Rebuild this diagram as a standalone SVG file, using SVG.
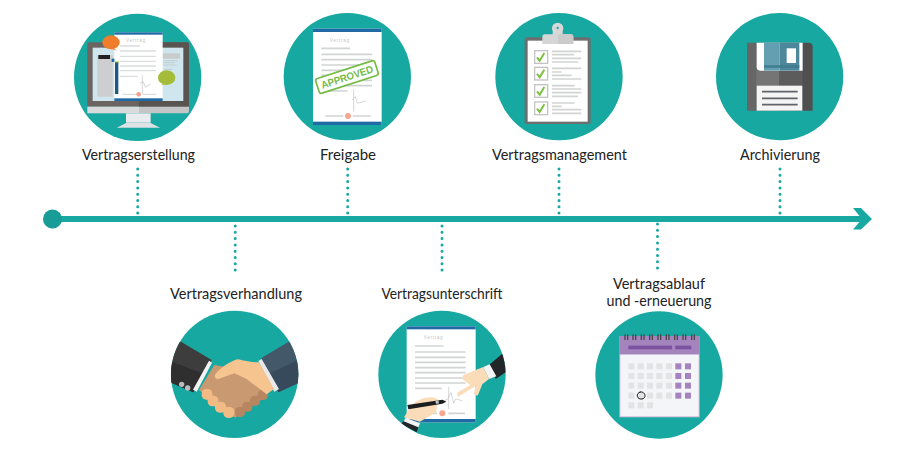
<svg xmlns="http://www.w3.org/2000/svg" width="907" height="451" viewBox="0 0 907 451">
<style>
.bg{fill:#17a8a2}
.lbl{font-family:"Lato","Liberation Sans",sans-serif;font-size:15px;font-weight:400;fill:#222;text-anchor:middle}
.dots{stroke:#17a8a2;stroke-width:3;stroke-linecap:round;stroke-dasharray:0 6.3;fill:none}
.gl{stroke:#dcdede;stroke-width:4;fill:none}
.cl{stroke:#d2d4d4;stroke-width:5;fill:none}
.vt{font-family:"Liberation Sans",sans-serif;font-size:14px;fill:#c4c6c6;letter-spacing:2px}
.sig{stroke:#c0c2c2;stroke-width:2;fill:none}
.g{fill:#e2e3e5}.p{fill:#a583bd}
</style>
<defs>
<clipPath id="c5"><circle cx="239" cy="208" r="191"/></clipPath>
<clipPath id="c6"><circle cx="231" cy="208" r="191"/></clipPath>
</defs>
<rect width="907" height="451" fill="#fff"/>
<g id="connectors">
<line x1="52" y1="219" x2="868" y2="219" stroke="#17a8a2" stroke-width="6"/>
<circle cx="52.500" cy="219" r="9.500" fill="#179c98"/>
<polygon points="853,208 861,208 872,219 861,229.500 853,229.500 862,219" fill="#17a8a2"/>
<path class="dots" d="M137.700 169V214"/>
<path class="dots" d="M235.200 226V275"/>
<path class="dots" d="M347.700 169V214"/>
<path class="dots" d="M442 226V275"/>
<path class="dots" d="M559 169V214"/>
<path class="dots" d="M657.500 224V271"/>
<path class="dots" d="M780 169V214"/>
</g>

<g id="n1">
<g transform="translate(60,0) scale(.3333)">
<circle class="bg" cx="233" cy="232" r="191"/>
<rect x="82" y="127" width="305" height="193" rx="6" fill="#6b6461"/>
<path d="M236 127H381a6 6 0 0 1 6 6V320H236z" fill="#5a5451"/>
<rect x="82" y="320" width="155" height="20" fill="#d9dadb"/>
<path d="M237 320H387V332a8 8 0 0 1-8 8H237z" fill="#c4c5c6"/>
<rect x="98" y="143" width="272" height="160" fill="#cfe6ee"/>
<rect x="112" y="165" width="46" height="125" fill="#cdcecf"/>
<rect x="115" y="165" width="35" height="12" fill="#222"/>
<rect x="308" y="160" width="52" height="16" fill="#c9cccc"/>
<path class="sig" d="M310 182H352M310 188H345M310 195H350M312 208H338" stroke-width="1.500"/>
<polygon points="198,340 272,340 272,368 198,368" fill="#e9ecee"/>
<polygon points="170,383 200,368 270,368 300,383" fill="#dfe2e4"/>
<rect x="163" y="97" width="145" height="206" fill="#fff"/>
<rect x="163" y="97" width="145" height="7" fill="#1f6aa5"/>
<rect x="163" y="295" width="145" height="8" fill="#1f6aa5"/>
<rect x="165" y="186" width="10" height="96" fill="#1d5a80"/>
<rect x="155" y="176" width="8" height="10" fill="#1f6aa5"/>
<rect x="166" y="184" width="10" height="4" fill="#a4bc3a"/>
<text class="vt" x="198" y="127">Vertrag</text>
<path class="gl" stroke-width="3" d="M180 138H240M180 153H288M180 169H288M180 184H288M180 198H288M180 212H288M180 229H233"/>
<path class="sig" d="M247 225V282M240 250L250 245L256 262L272 252"/>
<path class="gl" d="M188 283H228M248 283H288" stroke-width="2"/>
<circle cx="236" cy="283" r="7" fill="#f4a28c"/>
<ellipse cx="153" cy="127" rx="26" ry="21" fill="#ef7d2c"/>
<polygon points="160,145 172,152 152,146" fill="#ef7d2c"/>
<ellipse cx="320" cy="233" rx="26" ry="22" fill="#a4bc3a"/>
<polygon points="312,250 303,256 325,252" fill="#a4bc3a"/>
</g>
<text class="lbl" x="138.500" y="160" textLength="113" lengthAdjust="spacingAndGlyphs">Vertragserstellung</text>
</g>

<g id="n2">
<g transform="translate(270,0) scale(.3333)">
<circle class="bg" cx="232" cy="230" r="191"/>
<rect x="129" y="86" width="206" height="289" fill="#fff"/>
<rect x="129" y="86" width="206" height="10" fill="#1f6aa5"/>
<rect x="129" y="365" width="206" height="10" fill="#1f6aa5"/>
<text class="vt" x="180" y="125">Vertrag</text>
<path class="cl" stroke-width="4" d="M154 145H240M154 163H306M154 179H306M154 195H306M154 211H306M154 226H306M154 241H306M154 257H306M154 273H233"/>
<path class="sig" d="M251 268V335M246 300L256 290L262 310L288 303" stroke-width="3"/>
<path class="cl" stroke-width="3" d="M166 348H220M248 348H302"/>
<circle cx="234" cy="348" r="9" fill="#f7a78f"/>
<g transform="rotate(-18 231 231)">
<rect x="138" y="208" width="186" height="46" rx="7" fill="#fff" stroke="#74bb45" stroke-width="5"/>
<text x="231" y="242" font-family="Liberation Sans,sans-serif" font-weight="700" font-size="31" fill="#74bb45" text-anchor="middle" textLength="162" lengthAdjust="spacingAndGlyphs">APPROVED</text>
</g>
</g>
<text class="lbl" x="348" y="160" textLength="56" lengthAdjust="spacingAndGlyphs">Freigabe</text>
</g>

<g id="n3">
<g transform="translate(480,0) scale(.3333)">
<circle class="bg" cx="237" cy="230" r="191"/>
<rect x="134" y="112" width="198" height="260" rx="6" fill="#6e6e6e"/>
<rect x="143" y="122" width="180" height="243" fill="#fff"/>
<circle cx="233" cy="85" r="17" fill="#d8d8d8"/>
<rect x="218" y="85" width="30" height="20" fill="#d8d8d8"/>
<circle cx="233" cy="84" r="3.500" fill="#17a8a2"/>
<path d="M187 110a7 7 0 0 1 7-7H273a7 7 0 0 1 7 7V132H187z" fill="#d6d6d6"/>
<path d="M234 103H273a7 7 0 0 1 7 7V132H234z" fill="#cbcbcb"/>
<g fill="#fff" stroke="#c4c4c4" stroke-width="4">
<rect x="164" y="152" width="39" height="38"/><rect x="164" y="202" width="39" height="38"/><rect x="164" y="254" width="39" height="38"/><rect x="164" y="306" width="39" height="38"/>
</g>
<g fill="none" stroke="#7cc142" stroke-width="6">
<path d="M171 172L179 182L193 159"/><path d="M171 222L179 232L193 209"/><path d="M171 274L179 284L193 261"/><path d="M171 326L179 336L193 313"/>
</g>
<path class="cl" d="M216 154H304M216 164H282M216 175H304M216 186H294M216 205H304M216 216H245M216 226H275M216 237H304M216 257H284M216 267H304M216 278H304M216 289H294M216 309H284M216 319H245M216 329H304M216 340H304"/>
</g>
<text class="lbl" x="559.500" y="160" textLength="135" lengthAdjust="spacingAndGlyphs">Vertragsmanagement</text>
</g>

<g id="n4">
<g transform="translate(700,0) scale(.3333)">
<circle class="bg" cx="239" cy="230" r="191"/>
<path d="M141 128H238V332H141z" fill="#666"/>
<path d="M238 128H326a12 12 0 0 1 12 12V332H238z" fill="#4f4f4f"/>
<rect x="169" y="212" width="69" height="45" fill="#757575"/>
<rect x="238" y="212" width="69" height="45" fill="#5c5c5c"/>
<path d="M170 128H308V212H180a10 10 0 0 1-10-10z" fill="#fff"/>
<rect x="192" y="128" width="47" height="84" fill="#639fb0"/>
<rect x="239" y="128" width="59" height="84" fill="#4d879c"/>
<rect x="192" y="196" width="106" height="7" fill="#3f7a8f"/>
<rect x="260" y="145" width="28" height="44" fill="#fff"/>
<rect x="170" y="257" width="137" height="75" fill="#f5f5f5"/>
<path d="M186 275H293M186 295H293M186 314H293" stroke="#606468" stroke-width="5"/>
</g>
<text class="lbl" x="780" y="160" textLength="80" lengthAdjust="spacingAndGlyphs">Archivierung</text>
</g>

<g id="n5">
<text class="lbl" x="236" y="299" textLength="132" lengthAdjust="spacingAndGlyphs">Vertragsverhandlung</text>
<g transform="translate(155,305) scale(.3333)">
<circle class="bg" cx="239" cy="208" r="191"/>
<g clip-path="url(#c5)">
<polygon points="78,110 170,165 115,262 30,225 30,110" fill="#3d3d3d"/>
<polygon points="50,170 142,205 115,262 30,225" fill="#2f2f2f"/>
<polygon points="410,105 318,160 370,262 440,230 440,105" fill="#43596a"/>
<polygon points="430,165 345,205 370,262 440,230" fill="#364a5c"/>
</g>
<circle cx="80" cy="238" r="8" fill="#b9bcbf"/><circle cx="98" cy="249" r="8" fill="#b9bcbf"/>
<polygon points="162,167 171,173 125,260 114,254" fill="#f4f4f4"/>
<polygon points="310,168 320,162 372,252 358,260" fill="#e9e9e9"/>
<path d="M178 180L132 255L240 338L340 270L300 195L235 190z" fill="#c99a72"/>
<g fill="#b78660">
<rect x="240" y="306" width="30" height="30" rx="13"/><rect x="262" y="290" width="30" height="30" rx="13"/><rect x="285" y="272" width="30" height="30" rx="13"/><rect x="308" y="255" width="30" height="30" rx="13"/>
</g>
<path d="M180 210C190 192 230 165 250 163C275 170 295 172 312 172L357 252L335 268L275 222L238 205L190 222C180 222 178 215 180 210z" fill="#f6c48e"/>
<g fill="#f2bb85"><rect x="140" y="252" width="32" height="32" rx="14"/><rect x="158" y="272" width="32" height="32" rx="14"/><rect x="180" y="290" width="33" height="33" rx="14"/><rect x="205" y="306" width="33" height="33" rx="14"/></g>
</g>
</g>

<g id="n6">
<text class="lbl" x="442" y="299" textLength="121" lengthAdjust="spacingAndGlyphs">Vertragsunterschrift</text>
<g transform="translate(365,305) scale(.3333)">
<circle class="bg" cx="231" cy="208" r="191"/>
<rect x="125" y="64" width="207" height="288" fill="#fff"/>
<rect x="125" y="64" width="207" height="9" fill="#1f6aa5"/>
<rect x="125" y="342" width="207" height="10" fill="#1f6aa5"/>
<text class="vt" x="176" y="103">Vertrag</text>
<path class="cl" stroke-width="4" d="M150 123H236M150 141H302M150 157H302M150 172H302M150 188H302M150 203H302M150 219H302M150 234H302M150 250H230"/>
<path class="sig" d="M251 245V312M232 290L248 283L258 262L266 295L272 282L292 287" stroke-width="2.500"/>
<path class="cl" stroke-width="3" d="M180 325H216M250 325H300"/>
<circle cx="232" cy="325" r="9" fill="#f7a78f"/>
<g clip-path="url(#c6)">
<polygon points="372,180 412,146 425,140 425,200 392,222" fill="#232628"/>
<polygon points="355,186 374,178 394,214 372,222" fill="#f4f4f4"/>
<polygon points="120,345 160,366 155,382 108,356" fill="#232628"/>
</g>
<path d="M355 186L372 222L352 238L338 272L326 268L332 243L283 273C275 277 274 264 282 260L316 240L292 222L295 210z" fill="#fbdcb8"/>
<path d="M133 312C150 280 195 270 218 282L214 320L190 335L165 350L117 337z" fill="#fbdcb8"/>
<polygon points="116,349 122,338 165,355 160,367" fill="#f4f4f4"/>
<path d="M127 300L232 284L244 290L232 296L130 313z" fill="#1b1d1f"/>
<rect x="212" y="287" width="9" height="9" fill="#c7c9ca" transform="rotate(-8 216 291)"/>
</g>
</g>

<g id="n7">
<text class="lbl" x="659" y="289" textLength="92" lengthAdjust="spacingAndGlyphs">Vertragsablauf</text>
<text class="lbl" x="659" y="306" textLength="105" lengthAdjust="spacingAndGlyphs">und -erneuerung</text>
<g transform="translate(580,305) scale(.3333)">
<circle class="bg" cx="237" cy="210" r="191"/>
<rect x="118" y="93" width="241" height="244" fill="#c9b6d6"/>
<rect x="121" y="148" width="235" height="186" fill="#f4f5f8"/>
<rect x="118" y="93" width="241" height="55" fill="#a583bd"/>
<rect x="145" y="122" width="131" height="11" fill="#7b52a0"/>
<rect x="286" y="122" width="48" height="11" fill="#7b52a0"/>
<g fill="#4a4548">
<rect x="133" y="88" width="4" height="17"/><rect x="141" y="88" width="4" height="17"/>
<rect x="157" y="88" width="4" height="17"/><rect x="165" y="88" width="4" height="17"/>
<rect x="182" y="88" width="4" height="17"/><rect x="190" y="88" width="4" height="17"/>
<rect x="207" y="88" width="4" height="17"/><rect x="215" y="88" width="4" height="17"/>
<rect x="232" y="88" width="4" height="17"/><rect x="240" y="88" width="4" height="17"/>
<rect x="257" y="88" width="4" height="17"/><rect x="265" y="88" width="4" height="17"/>
<rect x="282" y="88" width="4" height="17"/><rect x="290" y="88" width="4" height="17"/>
<rect x="307" y="88" width="4" height="17"/><rect x="315" y="88" width="4" height="17"/>
<rect x="333" y="88" width="4" height="17"/><rect x="341" y="88" width="4" height="17"/>
</g>
<g class="g">
<rect x="145" y="175" width="18" height="18"/><rect x="173" y="175" width="18" height="18"/><rect x="201" y="175" width="18" height="18"/><rect x="229" y="175" width="18" height="18"/><rect x="258" y="175" width="18" height="18"/>
<rect x="145" y="204" width="18" height="18"/><rect x="173" y="204" width="18" height="18"/><rect x="201" y="204" width="18" height="18"/><rect x="229" y="204" width="18" height="18"/><rect x="258" y="204" width="18" height="18"/>
<rect x="145" y="233" width="18" height="18"/><rect x="173" y="233" width="18" height="18"/><rect x="201" y="233" width="18" height="18"/><rect x="229" y="233" width="18" height="18"/><rect x="258" y="233" width="18" height="18"/>
<rect x="145" y="263" width="18" height="18"/><rect x="173" y="263" width="18" height="18"/><rect x="201" y="263" width="18" height="18"/><rect x="229" y="263" width="18" height="18"/><rect x="258" y="263" width="18" height="18"/>
<rect x="145" y="292" width="18" height="18"/><rect x="173" y="292" width="18" height="18"/><rect x="201" y="292" width="18" height="18"/>
</g>
<g class="p">
<rect x="286" y="175" width="18" height="18"/><rect x="315" y="175" width="18" height="18"/>
<rect x="286" y="204" width="18" height="18"/><rect x="315" y="204" width="18" height="18"/>
<rect x="286" y="233" width="18" height="18"/><rect x="315" y="233" width="18" height="18"/>
<rect x="286" y="263" width="18" height="18"/><rect x="315" y="263" width="18" height="18"/>
</g>
<path d="M178 262C188 258 196 266 195 274C193 283 180 285 174 278C169 271 173 263 182 261" fill="none" stroke="#111" stroke-width="3"/>
</g>
</g>
</svg>
